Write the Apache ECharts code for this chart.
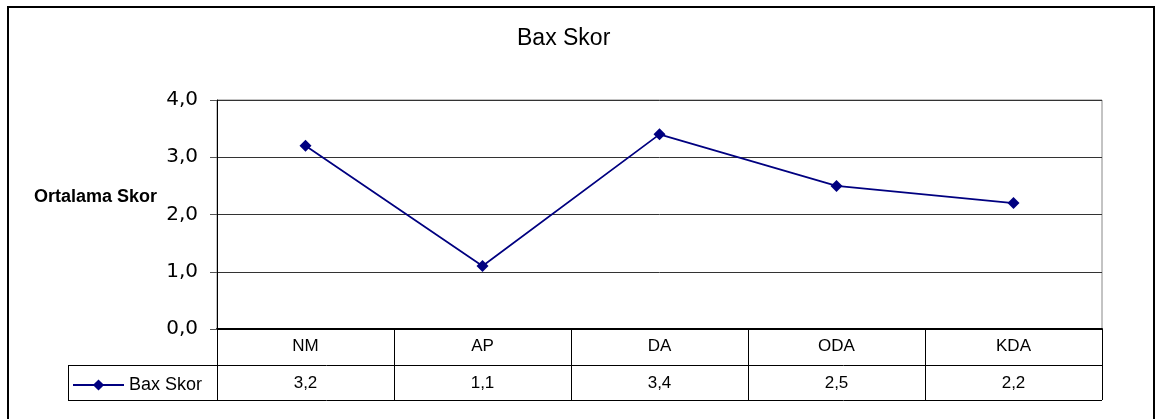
<!DOCTYPE html>
<html><head><meta charset="utf-8">
<script src="https://cdn.jsdelivr.net/npm/echarts@6/dist/echarts.min.js"></script>
<style>html,body{margin:0;padding:0;background:#fff}#c{width:1162px;height:419px}</style>
</head><body><div id="c"></div>
<script>
var categories = ['NM', 'AP', 'DA', 'ODA', 'KDA'];
var seriesName = 'Bax Skor';
var values = [3.2, 1.1, 3.4, 2.5, 2.2];
var yTicks = [0, 1, 2, 3, 4];

function fmt(v) { return v.toFixed(1).replace('.', ','); }

var G = {left: 217, top: 100, right: 1102, bottom: 329};
var chart = echarts.init(document.getElementById('c'));
chart.setOption({
  animation: false,
  title: {text: 'Bax Skor', left: 512, top: 22,
    textStyle: {fontFamily: 'Liberation Sans, Arial', fontSize: 23, fontWeight: 'normal', color: '#000'}},
  grid: {left: G.left, top: G.top, width: G.right - G.left, height: G.bottom - G.top,
    show: true, borderColor: '#888', borderWidth: 1, backgroundColor: 'transparent'},
  legend: {data: [{name: seriesName}], left: 67, top: 371, itemWidth: 51, itemHeight: 14, itemGap: 4,
    textStyle: {fontFamily: 'Liberation Sans, Arial', fontSize: 18, color: '#000'}},
  xAxis: [{
    type: 'category', data: categories, boundaryGap: true,
    axisLine: {show: true, lineStyle: {color: '#000', width: 2}},
    axisTick: {show: true, length: 71, lineStyle: {color: '#000', width: 1}},
    axisLabel: {margin: 9, fontFamily: 'Liberation Sans, Arial', fontSize: 17, color: '#000'},
    splitLine: {show: false}
  }, {
    type: 'category', data: values.map(fmt), position: 'bottom', offset: 36, boundaryGap: true,
    axisLine: {show: false}, axisTick: {show: false},
    axisLabel: {margin: 10, fontFamily: 'Liberation Sans, Arial', fontSize: 17, color: '#000'}
  }],
  yAxis: {
    type: 'value', min: yTicks[0], max: yTicks[yTicks.length - 1], interval: 1,
    name: 'Ortalama Skor', nameLocation: 'middle', nameRotate: 0, nameGap: 60,
    nameTextStyle: {fontFamily: 'Liberation Sans, Arial', fontSize: 18, fontWeight: 'bold', color: '#000', align: 'right', verticalAlign: 'bottom', padding: [0, 0, 8, 0]},
    axisLine: {show: true, lineStyle: {color: '#000', width: 1}},
    axisTick: {show: true, length: 7, lineStyle: {color: '#555'}},
    axisLabel: {formatter: fmt, margin: 19, fontFamily: 'DejaVu Sans', fontSize: 20, color: '#000'},
    splitLine: {show: true, lineStyle: {color: '#333', width: 1}}
  },
  series: [{
    name: seriesName, type: 'line', data: values, xAxisIndex: 0,
    symbol: 'diamond', symbolSize: 12,
    lineStyle: {color: '#000080', width: 1.75}, itemStyle: {color: '#000080'}
  }],
  graphic: [
    {type: 'rect', shape: {x: 8, y: 7, width: 1146, height: 440}, style: {fill: 'none', stroke: '#000', lineWidth: 2}, silent: true},
    {type: 'line', shape: {x1: 68, y1: 365.5, x2: 1102, y2: 365.5}, style: {stroke: '#000', lineWidth: 1}},
    {type: 'line', shape: {x1: 68, y1: 400.5, x2: 1102, y2: 400.5}, style: {stroke: '#000', lineWidth: 1}},
    {type: 'line', shape: {x1: 68.5, y1: 365, x2: 68.5, y2: 401}, style: {stroke: '#000', lineWidth: 1}}
  ]
});
</script></body></html>
